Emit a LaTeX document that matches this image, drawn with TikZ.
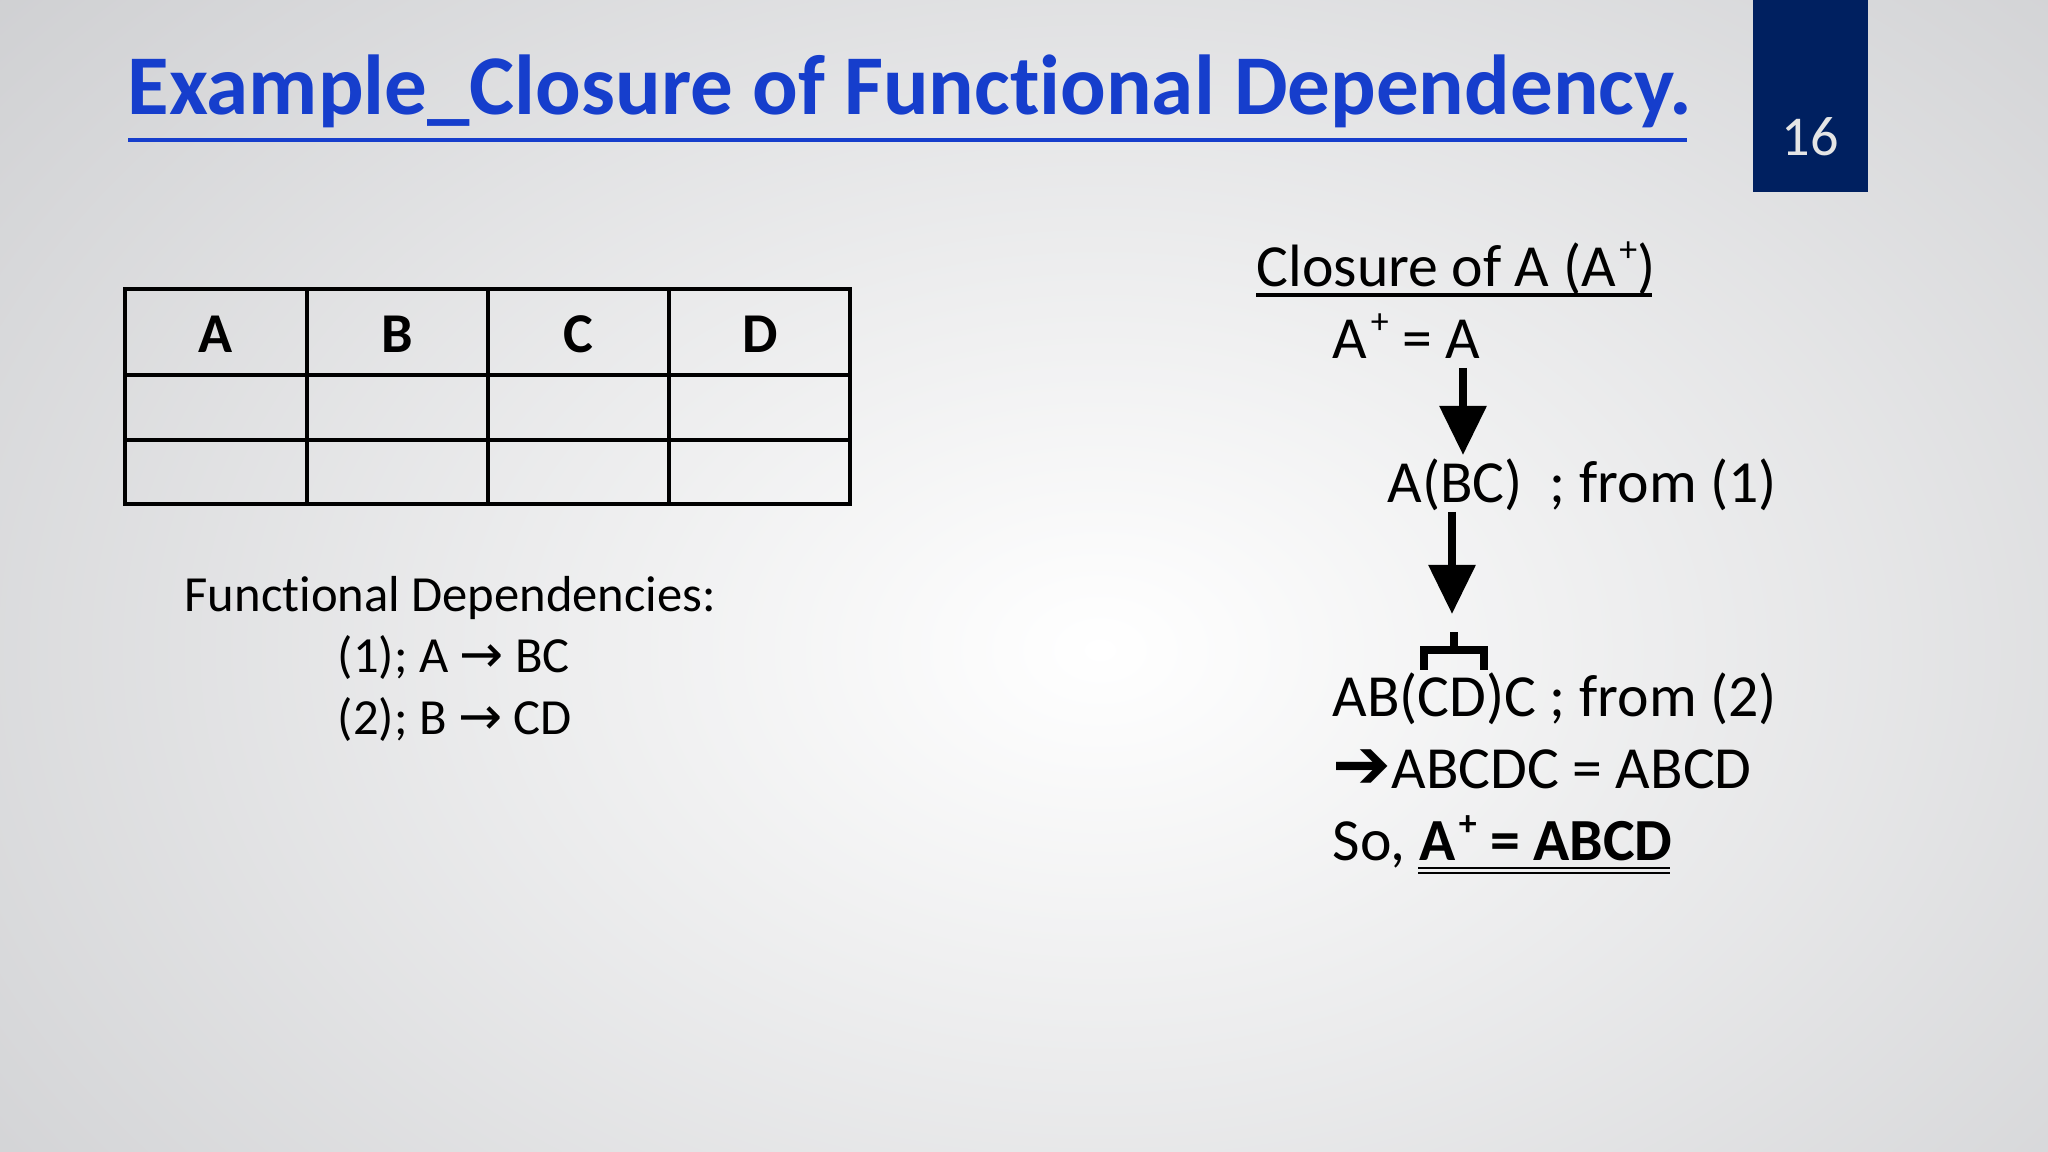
\documentclass[tikz,border=0pt]{standalone}
\usepackage{fontspec}
\setmainfont{Carlito}[RawFeature=-liga]
\newfontfamily\dv{DejaVu Sans}
\usetikzlibrary{arrows.meta}
\definecolor{ttlblue}{RGB}{22,62,204}
\definecolor{navy}{RGB}{0,32,96}
\definecolor{bg}{RGB}{196,197,200}
\newcommand{\plusup}{\kern0.06em\raisebox{0.42em}{\scalebox{0.6}{+}}}
\tikzset{
 txt/.style={anchor=base west,inner sep=0pt,font=\fontsize{17}{20}\selectfont},
 small/.style={anchor=base west,inner sep=0pt,font=\fontsize{14.4}{17}\selectfont},
 hdr/.style={inner sep=0pt,font=\bfseries\fontsize{16}{19}\selectfont},
 down/.style={line width=2.2pt,-{Triangle[length=14pt,width=13pt]}},
}
\begin{document}
\begin{tikzpicture}[x=0.1mm,y=-0.1mm]
\useasboundingbox (0,0) rectangle (2048,1152);
\shade[inner color=white,outer color=bg] (-700,-600) rectangle (2900,1900);
% title
\node[anchor=base west,inner sep=0pt,text=ttlblue,font=\bfseries\fontsize{24.2}{28}\selectfont] (title) at (127,115) {Example\_Closure of Functional Dependency.};
\draw[ttlblue,line width=1.4pt] (128,140) -- (1687,140);
% page number
\fill[navy] (1753,0) rectangle (1868,192);
\node[text=white!80!gray,font=\fontsize{16}{19}\selectfont] (num) at (1810,137) {16};
% table
\draw[line width=0.9pt] (125,289) rectangle (850,504);
\foreach \x in {307,488,669} \draw[line width=0.9pt] (\x,289) -- (\x,504);
\foreach \y in {375,440} \draw[line width=0.9pt] (125,\y) -- (850,\y);
\node[hdr] (hA) at (216,334) {A};
\node[hdr] (hB) at (397,334) {B};
\node[hdr] (hC) at (578,334) {C};
\node[hdr] (hD) at (760,334) {D};
% FDs
\node[small] (fd) at (184,612) {Functional Dependencies:};
\node[small] (fd1) at (337,673) {(1); A {\dv\fontsize{15}{17}\selectfont →} BC};
\node[small] (fd2) at (337,735) {(2); B {\dv\fontsize{15}{17}\selectfont →} CD};
% closure
\node[txt] (cl) at (1256,287) {Closure of A (A\plusup)};
\draw[line width=0.9pt] (1256,295) -- (1652,295);
\node[txt] (a0) at (1332,359) {A\plusup\ = A};
\node[txt] (a1) at (1387,503) {A(BC)\ \ ; from (1)};
\node[txt] (a2) at (1332,717) {AB(CD)C ; from (2)};
\node[txt] (a3) at (1332,789) {{\dv\fontsize{20}{22}\selectfont ➔}ABCDC = ABCD};
\node[txt] (a4) at (1332,861) {So, \textbf{A\plusup\ = ABCD}};
\draw[line width=0.8pt] (1418,868) -- (1670,868);
\draw[line width=0.8pt] (1418,873) -- (1670,873);
\coordinate (s1) at (1463,368);
\coordinate (e1) at (1463,455);
\coordinate (s2) at (1452,512);
\coordinate (e2) at (1452,614);
\draw[down] (s1) -- (e1);
\draw[down] (s2) -- (e2);
\draw[line width=2.4pt] (1424,670) -- (1424,650) -- (1484,650) -- (1484,670);
\draw[line width=2.4pt] (1454,650) -- (1454,632);
\end{tikzpicture}
\end{document}
